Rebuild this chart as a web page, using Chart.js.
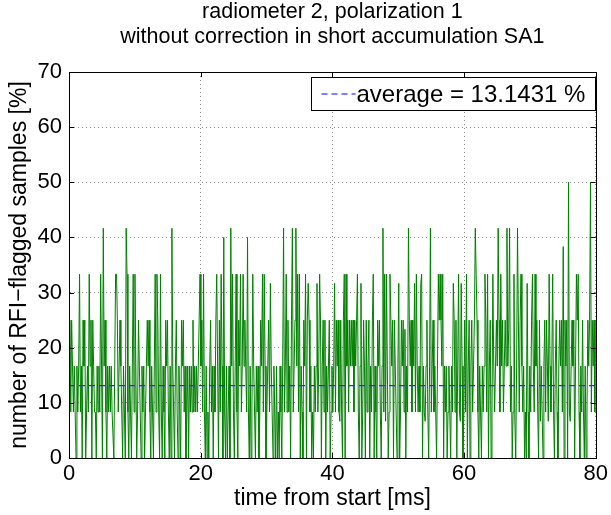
<!DOCTYPE html>
<html>
<head>
<meta charset="utf-8">
<script src="https://cdn.jsdelivr.net/npm/chart.js@4.4.1/dist/chart.umd.min.js"></script>
<style>
  html, body { margin: 0; padding: 0; background: #fff; }
  #wrap { width: 611px; height: 515px; }
</style>
</head>
<body>
<div id="wrap"><canvas id="myChart" width="611" height="515"></canvas></div>
<script>
// flagged samples per block of 12 in 12 slices of ~6.7 ms
const seg01 = [2,3,1,3,2,1,2,1,0,2, 1,2,4,1,2,0,3,2,3,0, 1,2,1,4,2,3,0,3,2,1, 1,0,2,1,2,1,4,2,0,5, 2,3,1,0,2,1,2,1,2,1];
const seg02 = [1,0,2,4,4,3,1,2,3,2, 1,0,2,1,0,5,4,1,0,2, 1,0,2,4,1,4,2,0,1,3, 2,1,0,2,1,2,0,1,2,3, 2,3,1,0,2,1,0,2,4,1];
const seg03 = [4,3,1,0,4,1,0,2,1,0, 3,2,3,1,0,2,0,5,2,1, 0,2,3,1,0,2,1,0,3,2, 3,1,2,0,1,2,0,2,1,2, 1,3,1,2,1,2,1,2,3,4];
const seg04 = [2,3,1,4,1,0,2,0,1,0, 2,3,1,2,0,2,1,3,4,2, 0,3,1,4,2,0,4.8,1,0,2, 0,1,2,0,5,2,4,1,0,2, 4,1,0,3,2,4,1,2,4,2];
const seg05 = [3,2,1,4.8,1,0,2,0,1,4, 2,1,0,2,1,2,0,1,3,2, 4,1,4,2,0,1,2,3,1,3.8, 2,1,0,2,1,0,2,0,1,0, 2,1,0,2,5,1,2,4,1,3];
const seg06 = [1,2,0,3,5,1,2,3,5,2, 4,1,4,0,2,1,0,3,2,4, 0,3,3.8,3,1,2,0,1,0,2, 1,2,3.8,1,2,4,3,0,2,3, 1,3,0,2,1,2,3,0,1,2];
const seg07 = [1,2,3.8,1,3,2,3,1,0.8,3, 1,0,3,4,0,4,2,3,1,3, 2,3,2,3,1,3,2,3,4,1, 0,2,3.8,0,1,3,2,0,3,1, 2,3,0,2,1,3,4,0,2,1];
const seg08 = [0,3,2,3,1,0,2,5,1,4, 0.8,4,2,0,1,4,3,2,3,0, 3,2,1,0,2,3.8,0,1,3,2, 3,1,2.8,0,2,1,5,3,2,3, 1,3,2,3.8,1,4,2,1,2,1];
const seg09 = [3.8,4,0,2,1,0.8,2,3,1,0, 2,5,1,2,3,1,2,1,0,2, 4,3,4,3,2,4,0,2,1,2, 0,1,2,1,0,2,1,3.8,3,1, 3,0,2,4,1,0.8,3.8,2,0,1];
const seg10 = [3,1,4,0,2,3,0,2,3,1, 2,3,5,4,3,1,0,2,1,0, 2,1,2,4,3,1,4,0,2,3, 0,1,4,2,1,2,3,2,5,3, 1,4,2,3,1,2,3,2,5,2];
const seg11 = [2.8,5,1,2,0,1,4,0.8,0,2, 5,3,1,3,4,2,1,2,0,1, 0,3.8,1,0,2,1,3,4,2,1, 4,2,3,1,0,3,0.8,2,1,0, 2,3,1,3,2,0.8,4,2,1,2];
const seg12 = [4,1,0,2,3,1,0,2,3,2, 3,1,4.6,0,3,2,3,0,6,1, 0.8,2,3,2,3,0,2,4,3,4, 1,0,2,1,3,1,0,2,0,1, 3,2,3,6,1,3,2,3,1,3];

const blockSize = 12;
const duration = 80; // ms
const average = 13.1431;
const xTicks = [0, 20, 40, 60, 80];
const yTicks = [0, 10, 20, 30, 40, 50, 60, 70];

const counts = [].concat(seg01, seg02, seg03, seg04, seg05, seg06,
                         seg07, seg08, seg09, seg10, seg11, seg12);
const flagged = counts.map((c, i) => ({
    x: i * duration / (counts.length - 1),
    y: c * 100 / blockSize,
}));

const FONT = "'Liberation Sans', Arial, Helvetica, sans-serif";
Chart.defaults.font.family = FONT;
Chart.defaults.font.size = 22;
Chart.defaults.color = "#000";

// MATLAB-like box, inward ticks and legend
const matlabBox = {
    id: "matlabBox",
    afterDatasetsDraw(chart) {
        const { ctx, chartArea: a, scales } = chart;
        const tl = 5;
        ctx.save();
        ctx.strokeStyle = "#000";
        ctx.lineWidth = 1;
        ctx.beginPath();
        xTicks.forEach((v) => {
            const px = Math.round(scales.x.getPixelForValue(v)) + 0.5;
            ctx.moveTo(px, a.bottom); ctx.lineTo(px, a.bottom - tl);
            ctx.moveTo(px, a.top); ctx.lineTo(px, a.top + tl);
        });
        yTicks.forEach((v) => {
            const py = Math.round(scales.y.getPixelForValue(v)) + 0.5;
            ctx.moveTo(a.left, py); ctx.lineTo(a.left + tl, py);
            ctx.moveTo(a.right, py); ctx.lineTo(a.right - tl, py);
        });
        ctx.stroke();
        ctx.strokeRect(Math.round(a.left) + 0.5, Math.round(a.top) + 0.5,
                       Math.round(a.right - a.left), Math.round(a.bottom - a.top));

        // legend
        const w = 284, h = 33;
        const lx = Math.round(a.right) - w - 1 + 0.5;
        const ly = Math.round(a.top) + 5 + 0.5;
        ctx.fillStyle = "#fff";
        ctx.fillRect(lx, ly, w, h);
        ctx.strokeRect(lx, ly, w, h);
        ctx.strokeStyle = "#0000ff";
        ctx.setLineDash([6, 4]);
        ctx.beginPath();
        ctx.moveTo(lx + 10, ly + h / 2);
        ctx.lineTo(lx + 44, ly + h / 2);
        ctx.stroke();
        ctx.setLineDash([]);
        ctx.fillStyle = "#000";
        ctx.font = "24px " + FONT;
        ctx.textBaseline = "middle";
        ctx.textAlign = "left";
        ctx.fillText("average = " + average + " %", lx + 45, ly + h / 2 + 1);
        ctx.restore();
    },
};

const dotted = {
    display: true,
    color: "rgba(0,0,0,0.45)",
    drawTicks: false,
};

new Chart(document.getElementById("myChart"), {
    type: "line",
    data: {
        datasets: [
            {
                label: "average",
                data: [{ x: 0, y: average }, { x: duration, y: average }],
                borderColor: "#2a2aff",
                borderWidth: 1.2,
                borderDash: [6, 4],
                pointRadius: 0,
                order: 0,
            },
            {
                label: "flagged",
                data: flagged,
                borderColor: "#008000",
                borderWidth: 1,
                pointRadius: 0,
                tension: 0,
                order: 1,
            },
        ],
    },
    options: {
        responsive: false,
        animation: false,
        events: [],
        layout: {
            autoPadding: false,
            padding: { left: 0, right: 14, top: 0, bottom: 0 },
        },
        plugins: {
            legend: { display: false },
            tooltip: { enabled: false },
            title: {
                display: true,
                fullSize: false,
                text: ["radiometer 2, polarization 1",
                       "without correction in short accumulation SA1"],
                color: "#000",
                font: { size: 21.5, weight: "normal", lineHeight: 25 / 21.5 },
                padding: { top: 0, bottom: 22 },
            },
        },
        scales: {
            x: {
                type: "linear",
                min: 0,
                max: duration,
                grid: { ...dotted },
                border: { display: true, color: "#000", dash: [1, 3] },
                ticks: { stepSize: 20, padding: 3, maxRotation: 0,
                         font: { size: 22 } },
                title: {
                    display: true,
                    text: "time from start [ms]",
                    font: { size: 23 },
                    padding: { top: 0, bottom: 3 },
                },
                afterFit: (s) => { s.height = 57; },
            },
            y: {
                min: 0,
                max: 70,
                grid: { ...dotted },
                border: { display: true, color: "#000", dash: [1, 3] },
                ticks: { stepSize: 10, padding: 7, font: { size: 22 } },
                title: {
                    display: true,
                    text: "number of RFI\u2212flagged samples [%]",
                    font: { size: 23 },
                    padding: { top: 6, bottom: 0 },
                },
                afterFit: (s) => { s.width = 69; },
            },
        },
    },
    plugins: [matlabBox],
});
</script>
</body>
</html>
